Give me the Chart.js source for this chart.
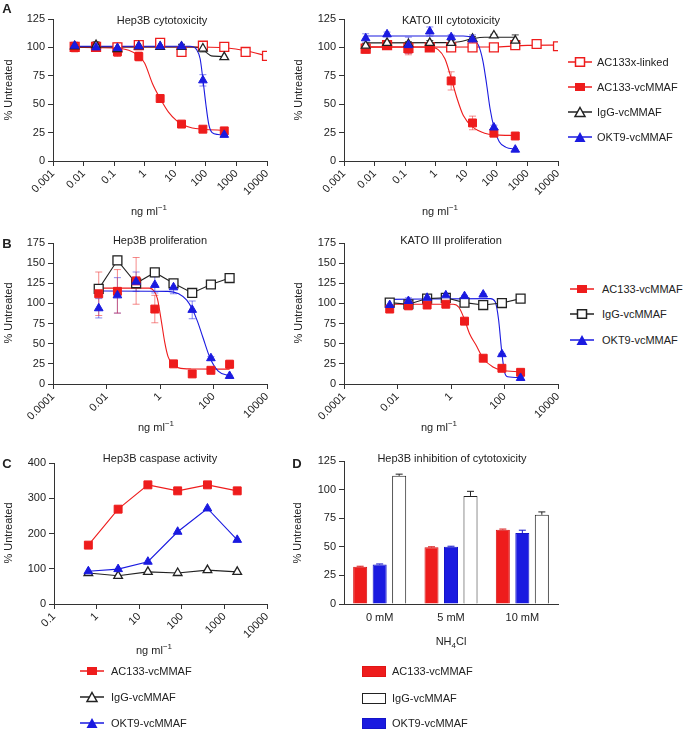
<!DOCTYPE html>
<html>
<head>
<meta charset="utf-8">
<script src="https://cdn.jsdelivr.net/npm/chart.js@4"></script>
<style>
  body { margin: 0; background: #fff; }
  #fig { position: relative; width: 685px; height: 730px; font-family: "Liberation Sans", Arial, sans-serif; font-size: 11px; color: #222; }
  #fig canvas { position: absolute; }
  .t { position: absolute; white-space: nowrap; line-height: 1; transform: translate(-50%, -50%); z-index: 2; }
  .ab { font-weight: bold; font-size: 13px; }
  .yt { transform: translate(-50%, -50%) rotate(-90deg); }
  .leg { position: absolute; display: flex; align-items: center; white-space: nowrap; transform: translateY(-50%); z-index: 2; }
  sup, sub { font-size: 8px; line-height: 0; }
</style>
</head>
<body>
<div id="fig">
  <canvas id="cA1"></canvas><canvas id="cA2"></canvas>
  <canvas id="cB1"></canvas><canvas id="cB2"></canvas>
  <canvas id="cC"></canvas><canvas id="cD"></canvas>

  <div class="t ab" style="left:7px;top:8px">A</div>
  <div class="t ab" style="left:7px;top:243px">B</div>
  <div class="t ab" style="left:7px;top:463px">C</div>
  <div class="t ab" style="left:297px;top:463px">D</div>

  <div class="t" style="left:162px;top:20px">Hep3B cytotoxicity</div>
  <div class="t" style="left:451px;top:20px">KATO III cytotoxicity</div>
  <div class="t" style="left:160px;top:240px">Hep3B proliferation</div>
  <div class="t" style="left:451px;top:240px">KATO III proliferation</div>
  <div class="t" style="left:160px;top:458px">Hep3B caspase activity</div>
  <div class="t" style="left:452px;top:458px">Hep3B inhibition of cytotoxicity</div>

  <div class="t yt" style="left:8px;top:90px">% Untreated</div>
  <div class="t yt" style="left:298px;top:90px">% Untreated</div>
  <div class="t yt" style="left:8px;top:313px">% Untreated</div>
  <div class="t yt" style="left:298px;top:313px">% Untreated</div>
  <div class="t yt" style="left:8px;top:533px">% Untreated</div>
  <div class="t yt" style="left:297px;top:533px">% Untreated</div>

  <div class="t" style="left:149px;top:211px">ng ml<sup>−1</sup></div>
  <div class="t" style="left:440px;top:211px">ng ml<sup>−1</sup></div>
  <div class="t" style="left:156px;top:427px">ng ml<sup>−1</sup></div>
  <div class="t" style="left:439px;top:427px">ng ml<sup>−1</sup></div>
  <div class="t" style="left:154px;top:650px">ng ml<sup>−1</sup></div>
  <div class="t" style="left:451px;top:641px">NH<sub>4</sub>Cl</div>
</div>

<script>
// ── Data ────────────────────────────────────────────────────────
const doses = [0.00512, 0.0256, 0.128, 0.64, 3.2, 16, 80, 400];
const dosesXlinked = [0.00512, 0.0256, 0.128, 0.64, 3.2, 16, 80, 400, 2000, 10000];
const dosesCaspase = [0.64, 3.2, 16, 80, 400, 2000];
const ticksCyto = [0.001, 0.01, 0.1, 1, 10, 100, 1000, 10000];
const ticksProl = [0.0001, 0.01, 1, 100, 10000];
const ticksCaspase = [0.1, 1, 10, 100, 1000, 10000];

// A – Hep3B cytotoxicity
const hepCytoXlinked = [100.5, 100.5, 100, 102, 104, 96, 101.5, 100.5, 96, 92.5];
const hepCytoXlinkedErr = [4, 2, 4, 4, 2, 3, 2, 0, 2, 0];
const hepCytoAc = [100, 100, 96, 92, 55, 32.5, 28, 26.5];
const hepCytoAcErr = [4, 1, 4, 4, 2, 1, 1, 1];
const hepCytoIgg = [101, 102, 98.5, 101, 100.5, 100.5, 99, 91.5];
const hepCytoIggErr = [2, 3, 4, 2, 1, 2, 3, 0];
const hepCytoOkt9 = [101.5, 100, 99.5, 101, 101, 101, 71, 23];
const hepCytoOkt9Err = [3, 2, 3, 2, 1, 2, 5, 1];
const hepCytoXlinkedFit = [[0.005, 100.5], [10, 100.4], [100, 100.2], [500, 99.5], [2000, 97], [10000, 92.5]];
const hepCytoAcFit = [[0.005, 100], [0.1, 99.5], [0.3, 97.5], [0.64, 92.5], [1, 86], [1.8, 68], [3.2, 55], [6, 43], [11, 35.5], [16, 32.5], [36, 29], [80, 28], [400, 27]];
const hepCytoIggFit = [[0.005, 100.5], [40, 100.3], [80, 98.5], [110, 95], [150, 92.5], [400, 92]];
const hepCytoOkt9Fit = [[0.005, 101], [30, 101], [50, 98], [65, 90], [80, 72], [100, 50], [125, 32], [160, 25], [250, 23.3], [400, 23]];

// A – KATO III cytotoxicity
const katoCytoXlinked = [99, 102, 99.5, 100, 100, 100, 100, 102, 103, 101];
const katoCytoXlinkedErr = [1, 1, 1, 1, 1, 1, 1, 1, 1, 0];
const katoCytoAc = [98.5, 102, 98.5, 100, 70.5, 33.5, 24.5, 22];
const katoCytoAcErr = [1, 1, 5, 1, 8, 6, 2, 1];
const katoCytoIgg = [101.5, 104, 103, 104, 104, 107.5, 110.5, 106];
const katoCytoIggErr = [2, 1, 2, 2, 2, 2, 1, 5];
const katoCytoOkt9 = [108, 111.5, 102, 114, 109, 107, 29.5, 10];
const katoCytoOkt9Err = [4, 2, 7, 4, 2, 4, 2, 0];
const katoCytoXlinkedFit = [[0.005, 100.2], [100, 100.4], [1000, 101.8], [10000, 102]];
const katoCytoAcFit = [[0.005, 100.5], [0.6, 100.3], [1.2, 98], [2, 90], [3.2, 73], [5, 55], [8, 40], [16, 30], [40, 24.5], [100, 23], [400, 22.5]];
const katoCytoIggFit = [[0.005, 104], [2, 104.2], [6, 105], [15, 107.5], [40, 109], [400, 109]];
const katoCytoOkt9Fit = [[0.005, 110], [8, 110], [16, 108], [25, 102], [35, 88], [46, 68], [60, 46], [80, 30], [120, 17], [200, 12], [400, 10.5]];

// B – Hep3B proliferation
const hepProlAc = [112, 115, 128, 93, 25, 12.5, 17, 24.5];
const hepProlAcErr = [27, 27, 29, 17, 2, 1, 2, 5];
const hepProlIgg = [118, 153.5, 125, 138.5, 125, 113, 123.5, 131.5];
const hepProlIggErr = [5, 5, 4, 4, 3, 2, 0, 0];
const hepProlOkt9 = [94, 110, 127, 123, 120, 92, 32, 10];
const hepProlOkt9Err = [12, 22, 12, 10, 8, 11, 2, 1];
const hepProlAcFit = [[0.005, 119], [0.4, 119], [0.6, 115.5], [0.8, 106], [1.1, 80], [1.5, 52], [2, 34], [3, 24], [5, 20], [15, 18.7], [400, 18.5]];
const hepProlOkt9Fit = [[0.005, 115.5], [2, 115], [5, 112], [10, 104], [16, 93], [25, 78], [40, 58], [75, 32], [150, 16], [400, 10]];

// B – KATO III proliferation
const katoProlAc = [93, 97, 98, 99, 78, 32, 19.5, 14.5];
const katoProlAcErr = [2, 2, 2, 1, 1, 1, 1, 1];
const katoProlIgg = [101, 99, 106, 107, 101, 98, 100.5, 106];
const katoProlIggErr = [3, 2, 2, 1, 1, 1, 1, 0];
const katoProlOkt9 = [98, 103, 107, 110, 109, 111, 37, 7.5];
const katoProlOkt9Err = [3, 4, 2, 1, 1, 1, 1, 1];
const katoProlAcFit = [[0.005, 99], [1.2, 99], [2, 95], [3.2, 80], [5, 62], [8.7, 48], [16, 32], [37, 21], [80, 17], [400, 15]];
const katoProlOkt9Fit = [[0.005, 105], [30, 106], [45, 102], [60, 80], [80, 38], [100, 15], [130, 9], [400, 8]];

// C – Hep3B caspase activity
const caspaseAc = [167, 269, 338, 321, 338, 321];
const caspaseIgg = [88, 80, 91, 88, 96, 91];
const caspaseOkt9 = [93, 99, 120, 205, 271, 182];

// D – Hep3B inhibition of cytotoxicity
const nh4Labels = ['0 mM', '5 mM', '10 mM'];
const inhibAc = [32.5, 49.5, 65];
const inhibAcErr = [0.5, 0.5, 0.5];
const inhibOkt9 = [34.5, 50, 62];
const inhibOkt9Err = [0.5, 0.5, 2.5];
const inhibIgg = [112, 94.5, 78];
const inhibIggErr = [1.5, 4, 2.5];

// ── Styles ──────────────────────────────────────────────────────
const RED = '#ee1c1c', BLUE = '#1a1ae0', INK = '#222';
const ERR = { [RED]: 'rgba(238,60,60,0.6)', [BLUE]: 'rgba(40,40,230,0.55)', [INK]: '#444' };
Chart.defaults.font.family = '"Liberation Sans", Arial, sans-serif';
Chart.defaults.font.size = 11;
Chart.defaults.color = INK;

const axisGrid = { drawOnChartArea: false, drawTicks: true, tickLength: 5, color: '#333', lineWidth: 1 };
const axisBorder = { display: true, color: '#333', width: 1 };

// ── Error bars plugin ───────────────────────────────────────────
const errorBars = {
  id: 'errorBars',
  beforeDatasetsDraw(chart) {
    const ctx = chart.ctx, ys = chart.scales.y;
    chart.data.datasets.forEach((ds, i) => {
      if (!ds.err) return;
      const meta = chart.getDatasetMeta(i);
      ctx.save();
      ctx.strokeStyle = ds.errColor;
      ctx.lineWidth = 1;
      meta.data.forEach((el, j) => {
        const e = ds.err[j];
        if (!e) return;
        const raw = ds.data[j];
        const v = typeof raw === 'object' ? raw.y : raw;
        const top = ys.getPixelForValue(v + e);
        const bot = ds.errUp ? ys.getPixelForValue(v) : ys.getPixelForValue(v - e);
        const c = 3.5;
        ctx.beginPath();
        ctx.moveTo(el.x, top); ctx.lineTo(el.x, bot);
        ctx.moveTo(el.x - c, top); ctx.lineTo(el.x + c, top);
        if (!ds.errUp) { ctx.moveTo(el.x - c, bot); ctx.lineTo(el.x + c, bot); }
        ctx.stroke();
      });
      ctx.restore();
    });
  }
};

// ── Dataset helpers ─────────────────────────────────────────────
const pts = (xs, ys) => xs.map((x, i) => ({ x, y: ys[i] }));

function fit(pairs, color) {
  return {
    data: pairs.map(([x, y]) => ({ x, y })),
    showLine: true, pointRadius: 0, borderColor: color, borderWidth: 1.1,
    cubicInterpolationMode: 'monotone', fill: false
  };
}

function marks(xs, ys, color, style, open, err, joined) {
  return {
    data: pts(xs, ys),
    pointStyle: style,
    pointRadius: style === 'rect' ? (open ? 6.3 : 5.6) : 5,
    backgroundColor: open ? '#fff' : color,
    borderColor: color,
    pointBorderWidth: open ? 1.3 : 1,
    borderWidth: 1.1,
    showLine: !!joined,
    err, errColor: ERR[color]
  };
}

// ── Panel builders ──────────────────────────────────────────────
// box: canvas [left, top, width, height]; area: chart area [left, top, right, bottom]
function placeCanvas(id, box) {
  const cv = document.getElementById(id);
  cv.style.left = box[0] + 'px';
  cv.style.top = box[1] + 'px';
  cv.width = box[2];
  cv.height = box[3];
  return cv;
}

function logPanel(id, box, area, xMin, xMax, xTicks, yMax, yStep, datasets) {
  const cv = placeCanvas(id, box);
  return new Chart(cv, {
    type: 'scatter',
    data: { datasets },
    options: {
      responsive: false, animation: false,
      layout: { padding: { top: area[1] - box[1], right: box[0] + box[2] - area[2], left: 0, bottom: 0 } },
      plugins: { legend: { display: false }, tooltip: { enabled: false } },
      scales: {
        x: {
          type: 'logarithmic', min: xMin, max: xMax,
          afterFit: s => { s.height = box[1] + box[3] - area[3]; },
          afterBuildTicks: s => { s.ticks = xTicks.map(v => ({ value: v })); },
          grid: axisGrid, border: axisBorder,
          ticks: { autoSkip: false, minRotation: 45, maxRotation: 45, padding: 1, callback: v => String(v) }
        },
        y: {
          min: 0, max: yMax,
          afterFit: s => { s.width = area[0] - box[0]; },
          grid: axisGrid, border: axisBorder,
          ticks: { stepSize: yStep, padding: 3 }
        }
      }
    },
    plugins: [errorBars]
  });
}

// ── A: cytotoxicity ─────────────────────────────────────────────
logPanel('cA1', [0, 4, 285, 216], [53, 19, 267, 161], 0.001, 10000, ticksCyto, 125, 25, [
  marks(doses, hepCytoOkt9, BLUE, 'triangle', false, hepCytoOkt9Err),
  marks(doses, hepCytoIgg, INK, 'triangle', true, hepCytoIggErr),
  marks(doses, hepCytoAc, RED, 'rect', false, hepCytoAcErr),
  marks(dosesXlinked, hepCytoXlinked, RED, 'rect', true, hepCytoXlinkedErr),
  fit(hepCytoOkt9Fit, BLUE), fit(hepCytoIggFit, INK), fit(hepCytoAcFit, RED), fit(hepCytoXlinkedFit, RED)
]);

logPanel('cA2', [290, 4, 280, 216], [344, 19, 558, 161], 0.001, 10000, ticksCyto, 125, 25, [
  marks(doses, katoCytoOkt9, BLUE, 'triangle', false, katoCytoOkt9Err),
  marks(doses, katoCytoIgg, INK, 'triangle', true, katoCytoIggErr),
  marks(doses, katoCytoAc, RED, 'rect', false, katoCytoAcErr),
  marks(dosesXlinked, katoCytoXlinked, RED, 'rect', true, katoCytoXlinkedErr),
  fit(katoCytoOkt9Fit, BLUE), fit(katoCytoIggFit, INK), fit(katoCytoAcFit, RED), fit(katoCytoXlinkedFit, RED)
]);

// ── B: proliferation ────────────────────────────────────────────
logPanel('cB1', [0, 228, 285, 215], [53, 243, 267, 384], 0.0001, 10000, ticksProl, 175, 25, [
  marks(doses, hepProlOkt9, BLUE, 'triangle', false, hepProlOkt9Err),
  marks(doses, hepProlAc, RED, 'rect', false, hepProlAcErr),
  marks(doses, hepProlIgg, INK, 'rect', true, hepProlIggErr, true),
  fit(hepProlOkt9Fit, BLUE), fit(hepProlAcFit, RED)
]);

logPanel('cB2', [290, 228, 280, 215], [344, 243, 558, 384], 0.0001, 10000, ticksProl, 175, 25, [
  marks(doses, katoProlOkt9, BLUE, 'triangle', false, katoProlOkt9Err),
  marks(doses, katoProlAc, RED, 'rect', false, katoProlAcErr),
  marks(doses, katoProlIgg, INK, 'rect', true, katoProlIggErr, true),
  fit(katoProlOkt9Fit, BLUE), fit(katoProlAcFit, RED)
]);

// ── C: caspase activity ─────────────────────────────────────────
logPanel('cC', [0, 448, 285, 215], [54, 463, 267, 604], 0.1, 10000, ticksCaspase, 400, 100, [
  marks(dosesCaspase, caspaseOkt9, BLUE, 'triangle', false, null, true),
  marks(dosesCaspase, caspaseIgg, INK, 'triangle', true, null, true),
  marks(dosesCaspase, caspaseAc, RED, 'rect', false, null, true)
]);

// ── D: inhibition bars ──────────────────────────────────────────
(() => {
  const box = [290, 446, 280, 190], area = [344, 461, 558, 604];
  const cv = placeCanvas('cD', box);
  const bar = (values, fill, stroke, err) => ({
    data: values, backgroundColor: fill, borderColor: stroke, borderWidth: 1,
    categoryPercentage: 0.82, barPercentage: 0.72,
    err, errUp: true, errColor: stroke
  });
  new Chart(cv, {
    type: 'bar',
    data: {
      labels: nh4Labels,
      datasets: [
        bar(inhibAc, RED, '#d81414', inhibAcErr),
        bar(inhibOkt9, BLUE, '#1414c8', inhibOkt9Err),
        bar(inhibIgg, '#fff', INK, inhibIggErr)
      ]
    },
    options: {
      responsive: false, animation: false,
      layout: { padding: { top: area[1] - box[1], right: box[0] + box[2] - area[2], left: 0, bottom: 0 } },
      plugins: { legend: { display: false }, tooltip: { enabled: false } },
      scales: {
        x: {
          afterFit: s => { s.height = box[1] + box[3] - area[3]; },
          grid: { drawOnChartArea: false, drawTicks: false, color: '#333' }, border: axisBorder,
          ticks: { padding: 7 }
        },
        y: {
          min: 0, max: 125,
          afterFit: s => { s.width = area[0] - box[0]; },
          grid: axisGrid, border: axisBorder,
          ticks: { stepSize: 25, padding: 3 }
        }
      }
    },
    plugins: [errorBars]
  });
})();

// ── Legends ─────────────────────────────────────────────────────
function marker(kind, color) {
  const line = `<line x1="0" y1="6" x2="24" y2="6" stroke="${color}" stroke-width="1.5"/>`;
  const shapes = {
    sqOpen: `<rect x="7.5" y="1.75" width="9" height="8.5" fill="#fff" stroke="${color}" stroke-width="1.5"/>`,
    sqFill: `<rect x="7" y="2" width="10" height="8" fill="${color}"/>`,
    triOpen: `<polygon points="12,1.5 17,10.5 7,10.5" fill="#fff" stroke="${color}" stroke-width="1.5"/>`,
    triFill: `<polygon points="12,1 17.5,11 6.5,11" fill="${color}"/>`
  };
  if (kind === 'bar') {
    return `<svg width="24" height="11"><rect x="0.5" y="0.5" width="23" height="10" fill="${color[0]}" stroke="${color[1]}"/></svg>`;
  }
  return `<svg width="24" height="12">${line}${shapes[kind]}</svg>`;
}

function legend(x, ys, gap, items) {
  const fig = document.getElementById('fig');
  items.forEach(([label, color, kind], i) => {
    const d = document.createElement('div');
    d.className = 'leg';
    d.style.left = x + 'px';
    d.style.top = ys[i] + 'px';
    d.innerHTML = marker(kind, color) + `<span style="margin-left:${gap}px">${label}</span>`;
    fig.appendChild(d);
  });
}

legend(568, [62, 87, 112, 137], 5, [
  ['AC133x-linked', RED, 'sqOpen'], ['AC133-vcMMAF', RED, 'sqFill'],
  ['IgG-vcMMAF', INK, 'triOpen'], ['OKT9-vcMMAF', BLUE, 'triFill']
]);
legend(570, [289, 314, 340], 8, [
  ['AC133-vcMMAF', RED, 'sqFill'], ['IgG-vcMMAF', INK, 'sqOpen'], ['OKT9-vcMMAF', BLUE, 'triFill']
]);
legend(80, [671, 697, 723], 7, [
  ['AC133-vcMMAF', RED, 'sqFill'], ['IgG-vcMMAF', INK, 'triOpen'], ['OKT9-vcMMAF', BLUE, 'triFill']
]);
legend(362, [671, 698, 723], 6, [
  ['AC133-vcMMAF', [RED, '#e01414'], 'bar'], ['IgG-vcMMAF', ['#fff', INK], 'bar'], ['OKT9-vcMMAF', [BLUE, '#1414c8'], 'bar']
]);
</script>
</body>
</html>
